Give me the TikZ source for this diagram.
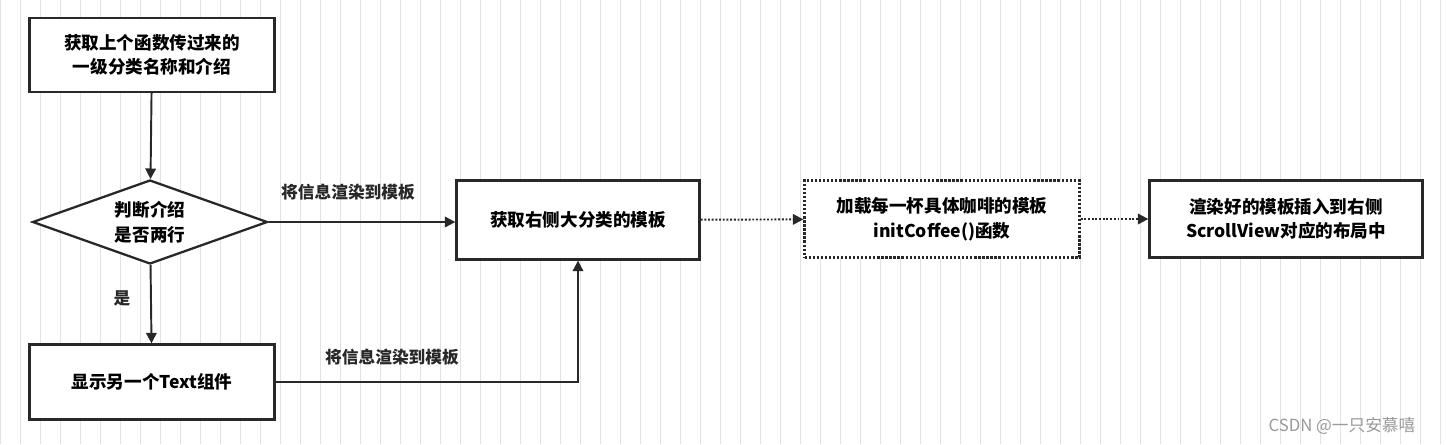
\documentclass[tikz,border=0pt]{standalone}
\usepackage{fontspec}
\setmainfont{Noto Sans CJK SC}
\usetikzlibrary{shapes.geometric,arrows.meta}
\definecolor{gridc}{RGB}{226,226,226}
\definecolor{linec}{RGB}{40,40,40}
\tikzset{
  box/.style={draw=linec, line width=1.3pt, fill=white, align=center, font=\fontsize{10}{14}\selectfont\bfseries},
  lbl/.style={font=\fontsize{9.5}{12}\selectfont\bfseries, text=linec},
  flow/.style={draw=linec, line width=1.1pt, -{Triangle[length=6pt,width=6pt]}}
}
\begin{document}
\begin{tikzpicture}[x=0.02cm, y=-0.02cm]
  \useasboundingbox (0,0) rectangle (1446,444);
  \fill[white] (0,0) rectangle (1446,444);
  \draw[gridc, line width=0.4pt] (0,0) grid[step=20] (1446,444);
  % boxes
  \node (fetch) [box, minimum width=245*0.02cm, minimum height=74*0.02cm] at (152,55) {获取上个函数传过来的\\一级分类名称和介绍};
  \node (judge) [box, diamond, aspect=2.8, inner sep=1pt, minimum width=235*0.02cm, minimum height=84*0.02cm] at (150,222) {判断介绍\\是否两行};
  \node (tmpl) [box, minimum width=243*0.02cm, minimum height=79*0.02cm] at (578,220) {获取右侧大分类的模板};
  \node (load) [box, densely dotted, minimum width=275*0.02cm, minimum height=77*0.02cm] at (942,219) {加载每一杯具体咖啡的模板\\initCoffee()函数};
  \node (insert) [box, minimum width=273*0.02cm, minimum height=77*0.02cm] at (1286,219) {渲染好的模板插入到右侧\\ScrollView对应的布局中};
  \node (show) [box, minimum width=245*0.02cm, minimum height=75*0.02cm] at (152,382) {显示另一个Text组件};
  % connectors
  \draw[flow] (fetch) -- (judge);
  \draw[flow] (judge) -- (show);
  \draw[flow] (judge.east) -- (tmpl.west |- judge.east);
  \draw[flow] (show.east) -| (tmpl.south);
  \draw[flow, densely dotted] (tmpl) -- (load);
  \draw[flow, densely dotted] (load) -- (insert);
  % labels
  \node (l1) [lbl] at (348,192) {将信息渲染到模板};
  \node (l2) [lbl] at (122,298) {是};
  \node (l3) [lbl] at (392,357) {将信息渲染到模板};
  \node (mark) [font=\fontsize{9.5}{12}\selectfont, text=gray!80] at (1342,426) {CSDN @一只安慕嘻};
\end{tikzpicture}
\end{document}
